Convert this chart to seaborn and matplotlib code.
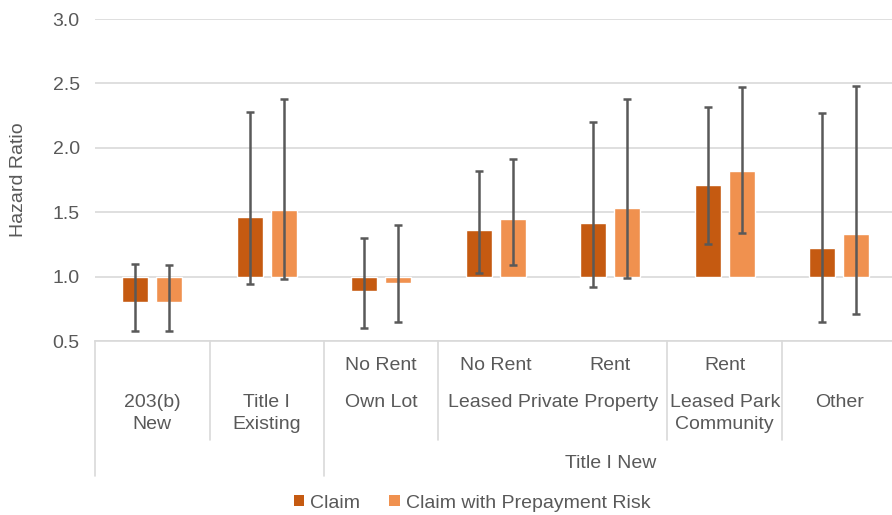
import pandas as pd
import seaborn as sns
import matplotlib.pyplot as plt
import matplotlib.transforms as mtransforms
from matplotlib.patches import Patch

# Hazard ratios with 95% confidence bounds
categories = ["203(b) New", "Title I Existing", "Own Lot / No Rent",
              "Leased Private / No Rent", "Leased Private / Rent",
              "Leased Park / Rent", "Other"]
series = ["Claim", "Claim with Prepayment Risk"]

claim_hr = [0.80, 1.46, 0.89, 1.36, 1.42, 1.71, 1.22]
claim_lo = [0.58, 0.94, 0.60, 1.03, 0.92, 1.25, 0.65]
claim_hi = [1.10, 2.28, 1.30, 1.82, 2.20, 2.32, 2.27]

prepay_hr = [0.80, 1.52, 0.95, 1.45, 1.53, 1.82, 1.33]
prepay_lo = [0.58, 0.98, 0.65, 1.09, 0.99, 1.34, 0.71]
prepay_hi = [1.09, 2.38, 1.40, 1.91, 2.38, 2.47, 2.48]

# multi-level category axis labels
rent_labels = ["", "", "No Rent", "No Rent", "Rent", "Rent", ""]
property_labels = ["203(b)\nNew", "Title I\nExisting", "Own Lot",
                   "Leased Private Property", "Leased Park\nCommunity", "Other"]
property_spans = [(0, 0), (1, 1), (2, 2), (3, 4), (5, 5), (6, 6)]
group_labels = ["Title I New"]
group_spans = [(2, 6)]

BASE = 1.0  # bars start at hazard ratio 1
colors = ["#C55A11", "#F0914F"]
text_color = "#595959"
grid_color = "#D9D9D9"
FS = 14

df = pd.DataFrame({
    "category": categories * 2,
    "series": [series[0]] * len(categories) + [series[1]] * len(categories),
    "hr": claim_hr + prepay_hr,
    "lo": claim_lo + prepay_lo,
    "hi": claim_hi + prepay_hi,
})
df["delta"] = df["hr"] - BASE

sns.set_style("white")
plt.rcParams["font.family"] = ["Liberation Sans", "DejaVu Sans"]
plt.rcParams["font.size"] = FS

fig = plt.figure(figsize=(8.92, 5.15), dpi=100)
# axes in pixel terms: x 95..896, y 19..341
ax = fig.add_axes([95 / 892, (515 - 341) / 515, 801.5 / 892, 322 / 515])

sns.barplot(data=df, x="category", y="delta", hue="series", order=categories,
            hue_order=series, palette=colors, width=0.594, gap=0.235,
            bottom=BASE, saturation=1, legend=False, ax=ax)

# error bars at the bar centres
bars = ax.patches
xs = [b.get_x() + b.get_width() / 2 for b in bars]
ax.errorbar(xs, df["hr"], yerr=[df["hr"] - df["lo"], df["hi"] - df["hr"]],
            fmt="none", ecolor=text_color, elinewidth=1.8, capsize=2.9,
            capthick=1.8, zorder=5)

ax.set_ylim(0.5, 3.0)
ax.set_xlim(-0.5, 6.5)
ax.set_yticks([0.5, 1.0, 1.5, 2.0, 2.5, 3.0])
ax.set_yticklabels([f"{v:.1f}" for v in [0.5, 1.0, 1.5, 2.0, 2.5, 3.0]])
ax.yaxis.grid(True, color=grid_color, linewidth=1.2)
ax.set_axisbelow(True)
for side in ["top", "right", "left"]:
    ax.spines[side].set_visible(False)
ax.spines["bottom"].set_color(grid_color)
ax.spines["bottom"].set_linewidth(1.2)
ax.tick_params(axis="y", length=0, pad=11, labelcolor=text_color, labelsize=FS)
ax.tick_params(axis="x", length=0)
ax.set_xticks([])
ax.set_xlabel("")
ax.set_ylabel("Hazard Ratio", color=text_color, fontsize=FS)
ax.yaxis.set_label_coords(-0.085, 0.5)

# category table under the plot
trans = mtransforms.blended_transform_factory(ax.transData, ax.transAxes)


def ypos(px):
    return (341 - px) / 322


for x in [-0.5, 1.5, 6.5]:
    ax.plot([x, x], [0, ypos(476)], color=grid_color, lw=1.2,
            transform=trans, clip_on=False)
for x in [0.5, 2.5, 4.5, 5.5]:
    ax.plot([x, x], [0, ypos(440)], color=grid_color, lw=1.2,
            transform=trans, clip_on=False)

for i, lab in enumerate(rent_labels):
    if lab:
        ax.text(i, ypos(365), lab, transform=trans, ha="center", va="center",
                color=text_color)
for lab, (a, b) in zip(property_labels, property_spans):
    ax.text((a + b) / 2, ypos(394), lab, transform=trans, ha="center",
            va="top", color=text_color, linespacing=1.4)
for lab, (a, b) in zip(group_labels, group_spans):
    ax.text((a + b) / 2, ypos(464), lab, transform=trans, ha="center",
            va="center", color=text_color)

handles = [Patch(facecolor=c, edgecolor="none") for c in colors]
fig.legend(handles, series, loc="center", bbox_to_anchor=(472 / 892, 12 / 515),
           ncol=2, frameon=False, handlelength=0.55, handleheight=0.55,
           handletextpad=0.3, columnspacing=1.5, labelcolor=text_color,
           fontsize=FS)

fig.savefig("out.png", dpi=100)
